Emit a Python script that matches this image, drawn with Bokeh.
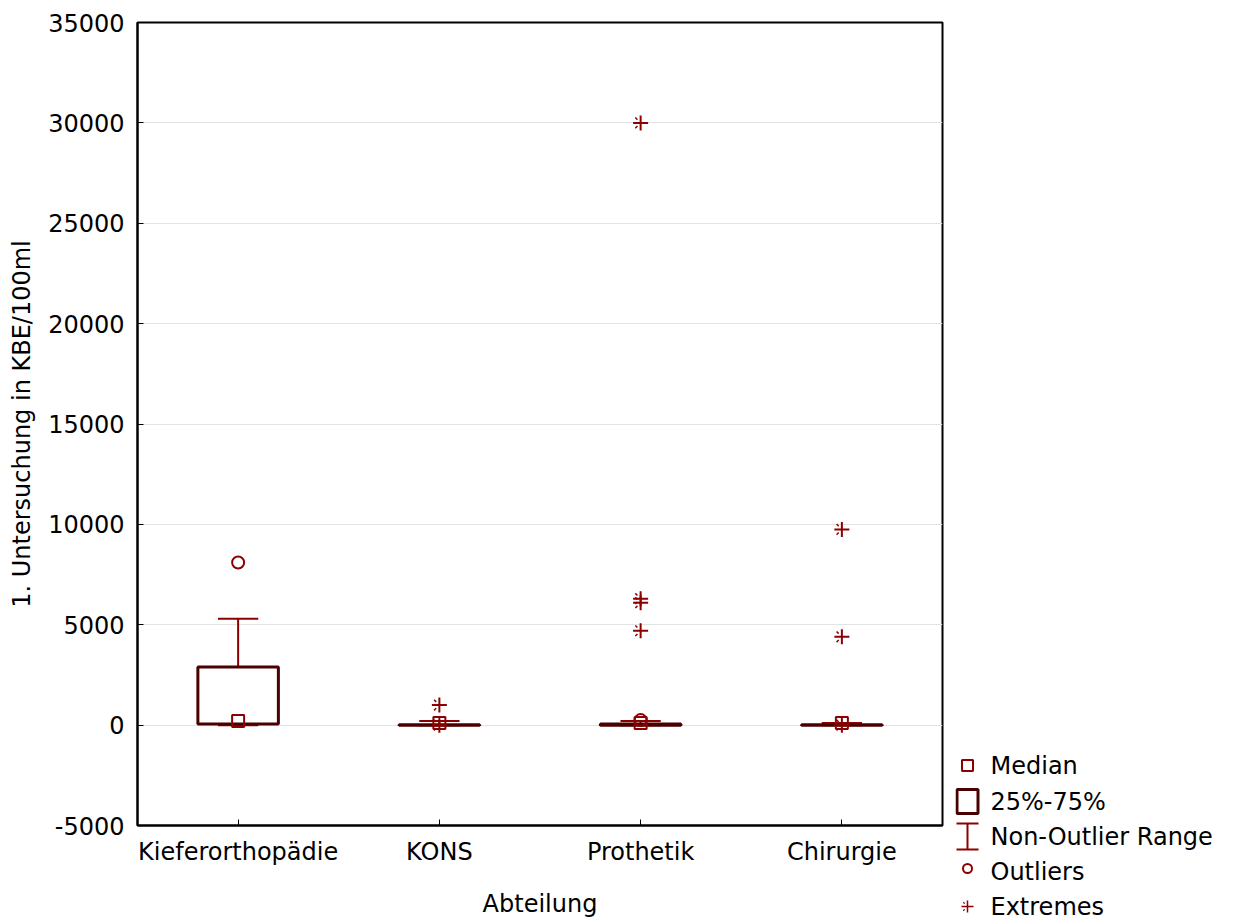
import numpy as np
from bokeh.plotting import figure
from bokeh.layouts import row
from bokeh.models import Range1d, FixedTicker, ColumnDataSource
from bokeh.core.properties import value
from bokeh.embed import file_html
from bokeh.resources import INLINE

# ---- data ----
categories = ["Kieferorthopädie", "KONS", "Prothetik", "Chirurgie"]
median = [200, 100, 100, 100]
q1 = [50, 0, 0, 0]
q3 = [2900, 20, 50, 20]
whisker_low = [0, 0, 0, 0]
whisker_high = [5300, 200, 200, 100]
outlier_cat = ["Kieferorthopädie", "Prothetik"]
outlier_val = [8100, 250]
extreme_cat = ["KONS", "KONS", "Prothetik", "Prothetik", "Prothetik", "Prothetik",
               "Chirurgie", "Chirurgie", "Chirurgie"]
extreme_val = [1000, 0, 30000, 6300, 6100, 4700, 9750, 4400, 0]
y_ticks = [-5000, 0, 5000, 10000, 15000, 20000, 25000, 30000, 35000]
legend_labels = ["Median", "25%-75%", "Non-Outlier Range", "Outliers", "Extremes"]

FONT = "DejaVu Sans"
BOX_C = "#4a0000"
RED = "#8b0000"
BOX_W = 0.4
CAP_W = 0.2

pos = {c: i + 0.5 for i, c in enumerate(categories)}
xc = np.array([pos[c] for c in categories])

p = figure(width=955, height=921, x_range=Range1d(0, len(categories)),
           y_range=Range1d(y_ticks[0], y_ticks[-1]),
           output_backend="svg", toolbar_location=None,
           min_border_left=137, min_border_right=13, min_border_top=22,
           min_border_bottom=96)
p.frame_align = False
p.outline_line_color = "black"
p.outline_line_width = 2
p.background_fill_color = "white"
p.border_fill_color = "white"

# grid
p.xgrid.visible = False
p.ygrid.grid_line_color = "#e3e3e3"
p.ygrid.grid_line_width = 1
p.yaxis.ticker = FixedTicker(ticks=y_ticks)
p.yaxis.major_label_overrides = {t: str(t) for t in y_ticks}
p.xaxis.ticker = FixedTicker(ticks=list(xc))
p.xaxis.major_label_overrides = {float(pos[c]): c for c in categories}

for ax in (p.xaxis, p.yaxis):
    ax.major_label_text_font = FONT
    ax.major_label_text_font_size = "24px"
    ax.major_label_text_color = "black"
    ax.axis_label_text_font = FONT
    ax.axis_label_text_font_size = "24px"
    ax.axis_label_text_font_style = "normal"
    ax.axis_label_text_color = "black"
    ax.major_tick_in = 6
    ax.major_tick_out = 0
    ax.minor_tick_in = 0
    ax.minor_tick_out = 0
    ax.major_tick_line_color = "black"
    ax.major_tick_line_width = 1
    ax.axis_line_color = "black"
    ax.axis_line_width = 2
p.yaxis.major_label_standoff = 13
p.xaxis.major_label_standoff = 12
p.yaxis.axis_label = "1. Untersuchung in KBE/100ml"
p.xaxis.axis_label = "Abteilung"
p.yaxis.axis_label_standoff = 9
p.xaxis.axis_label_standoff = 21

box_src = ColumnDataSource(dict(x=xc, left=xc - BOX_W / 2, right=xc + BOX_W / 2,
                                cl=xc - CAP_W / 2, cr=xc + CAP_W / 2,
                                q1=q1, q3=q3, med=median,
                                lo=whisker_low, hi=whisker_high))

# whiskers
p.segment(x0="x", y0="q3", x1="x", y1="hi", source=box_src, line_color=RED, line_width=2)
p.segment(x0="x", y0="q1", x1="x", y1="lo", source=box_src, line_color=RED, line_width=2)
p.segment(x0="cl", y0="hi", x1="cr", y1="hi", source=box_src, line_color=RED, line_width=2)
p.segment(x0="cl", y0="lo", x1="cr", y1="lo", source=box_src, line_color=RED, line_width=2)
# boxes
p.quad(left="left", right="right", bottom="q1", top="q3", source=box_src,
       fill_color="white", fill_alpha=0, line_color=BOX_C, line_width=3)
# medians
p.scatter(x="x", y="med", source=box_src, marker="square", size=12,
          fill_alpha=0, line_color=RED, line_width=2)
# outliers
p.scatter(x=[pos[c] for c in outlier_cat], y=outlier_val, marker="circle", size=12,
          fill_alpha=0, line_color=RED, line_width=2)
# extremes
ex_x = [pos[c] for c in extreme_cat]
p.scatter(x=ex_x, y=extreme_val, marker="cross", size=15, line_color=RED, line_width=2)
p.scatter(x=ex_x, y=extreme_val, marker="x", size=15, line_color=RED, line_width=1.5,
          line_dash="3 14", line_alpha=1.0)

# ---- legend panel ----
lg = figure(width=285, height=921, x_range=Range1d(0, 285), y_range=Range1d(921, 0),
            output_backend="svg", toolbar_location=None,
            min_border=0, min_border_left=0, min_border_right=0,
            min_border_top=0, min_border_bottom=0)
lg.frame_align = False
lg.axis.visible = False
lg.grid.visible = False
lg.outline_line_color = None
lg.background_fill_color = "white"
lg.border_fill_color = "white"

row_y = np.array([765, 801, 836, 871, 906])
mx = 12
lg.scatter(x=[mx], y=[row_y[0]], marker="square", size=11, fill_alpha=0,
           line_color=RED, line_width=2)
lg.rect(x=[mx], y=[row_y[1]], width=21, height=24, fill_alpha=0,
        line_color=BOX_C, line_width=3)
lg.segment(x0=[mx, mx - 11, mx - 11], y0=[row_y[2] - 13, row_y[2] - 13, row_y[2] + 13],
           x1=[mx, mx + 11, mx + 11], y1=[row_y[2] + 13, row_y[2] - 13, row_y[2] + 13],
           line_color=RED, line_width=2)
lg.scatter(x=[mx], y=[row_y[3] - 3], marker="circle", size=9, fill_alpha=0,
           line_color=RED, line_width=2)
lg.scatter(x=[mx], y=[row_y[4]], marker="cross", size=12, line_color=RED, line_width=1.5)
lg.scatter(x=[mx], y=[row_y[4]], marker="x", size=12, line_color=RED, line_width=1.2,
           line_dash="2 11", line_alpha=1.0)
lg.text(x=[35] * len(legend_labels), y=row_y, text=legend_labels,
        text_font=value(FONT), text_font_size="24px", text_color="black",
        text_baseline="middle", text_align="left")

layout = row(p, lg, spacing=0)
open("out.html", "w").write(file_html(layout, INLINE))
